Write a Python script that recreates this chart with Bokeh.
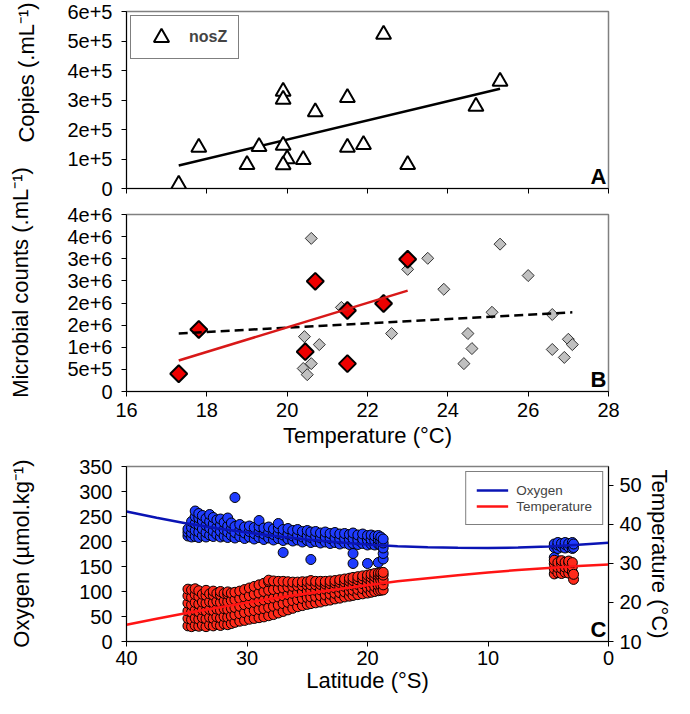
import numpy as np
from bokeh.plotting import figure
from bokeh.layouts import row, column
from bokeh.models import Range1d, LinearAxis, FixedTicker, Label, AllLabels
from bokeh.core.properties import value
from bokeh.embed import file_html
from bokeh.resources import INLINE

FONT = "Liberation Sans"
TICK_PX = "20px"
TITLE_PX = "22px"

# ---------------- Panel A : nosZ copies vs temperature ----------------
nosz_temp = [17.3, 17.8, 19.0, 19.3, 19.9, 19.9, 19.9, 20.0, 19.9, 20.4, 20.7,
             21.5, 21.5, 21.9, 22.4, 23.0, 24.7, 25.3]
nosz_copies = [1.4e4, 1.39e5, 8.1e4, 1.42e5, 3.29e5, 3.02e5, 1.46e5, 1.0e5, 8.0e4,
               9.8e4, 2.6e5, 3.08e5, 1.39e5, 1.49e5, 5.22e5, 8.1e4, 2.78e5, 3.63e5]
nosz_fit_temp = [17.3, 25.3]
nosz_fit_copies = [7.8e4, 3.38e5]
a_yticks = [0, 1e5, 2e5, 3e5, 4e5, 5e5, 6e5]
a_ylabels = ["0", "1e+5", "2e+5", "3e+5", "4e+5", "5e+5", "6e+5"]
temp_xticks = [16, 18, 20, 22, 24, 26, 28]

# ---------------- Panel B : microbial counts vs temperature ----------------
all_temp = [20.6, 20.43, 20.8, 20.6, 20.4, 20.5, 21.35, 23.5, 23.0, 23.9, 22.6,
            25.3, 26.0, 25.1, 24.5, 24.6, 24.4, 26.6, 26.6, 27.0, 27.1, 26.9]
all_counts = [3.46e6, 1.24e6, 1.06e6, 0.63e6, 0.52e6, 0.38e6, 1.9e6, 3.01e6, 2.76e6,
              2.31e6, 1.31e6, 3.33e6, 2.62e6, 1.79e6, 1.31e6, 0.97e6, 0.63e6,
              1.74e6, 0.95e6, 1.18e6, 1.06e6, 0.77e6]
sel_temp = [17.3, 17.8, 20.45, 20.7, 21.5, 21.5, 22.4, 23.0]
sel_counts = [4.0e5, 1.40e6, 0.90e6, 2.49e6, 1.83e6, 0.63e6, 1.99e6, 2.99e6]
sel_fit_temp = [17.3, 23.0]
sel_fit_counts = [0.70e6, 2.28e6]
all_fit_temp = [17.3, 27.1]
all_fit_counts = [1.31e6, 1.79e6]
b_yticks = [0, 5e5, 1e6, 1.5e6, 2e6, 2.5e6, 3e6, 3.5e6, 4e6]
b_ylabels = ["0", "5e+5", "1e+6", "2e+6", "2e+6", "3e+6", "3e+6", "4e+6", "4e+6"]

# ---------------- Panel C : oxygen & temperature vs latitude ----------------
o2_by_lat = {
    34.9: [211, 218, 225], 34.6: [209, 217, 228, 240], 34.3: [210, 222, 236, 250, 261],
    34.0: [208, 219, 233, 247, 256], 33.7: [212, 225, 241, 252], 33.4: [209, 218, 232, 246],
    33.1: [213, 227, 240, 254], 32.8: [210, 221, 235, 248], 32.5: [214, 228, 243],
    32.2: [209, 220, 233, 245], 31.9: [211, 224, 238], 31.6: [208, 219, 231, 247],
    31.3: [212, 225, 237], 31.0: [207, 218, 230, 288], 30.6: [210, 222, 234],
    30.2: [206, 217, 229], 29.8: [209, 220, 231], 29.4: [205, 216, 228],
    29.0: [208, 219, 230, 242], 28.6: [204, 215, 227], 28.2: [207, 218, 229],
    27.8: [203, 214, 225], 27.4: [206, 216, 227, 236], 27.0: [178, 202, 213, 224],
    26.6: [205, 215, 226], 26.2: [201, 211, 222], 25.8: [203, 213, 224],
    25.4: [199, 209, 220], 25.0: [202, 212, 222], 24.7: [164, 198, 208, 219],
    24.3: [200, 210, 220], 23.9: [197, 207, 217], 23.5: [199, 209, 219],
    23.1: [196, 206, 216], 22.7: [198, 207, 218], 22.3: [195, 205, 215],
    21.9: [197, 206, 216], 21.5: [194, 204, 214], 21.2: [156, 176, 196, 206, 217],
    20.8: [194, 203, 213], 20.4: [196, 205, 215], 20.0: [156, 193, 203, 212],
    19.7: [195, 204, 213], 19.4: [193, 202, 211], 19.1: [158, 195, 204, 212],
    18.9: [192, 201, 209], 18.7: [165, 176, 187, 197, 205],
    4.5: [188, 195, 168], 4.2: [186, 193, 198], 3.9: [189, 196],
    3.6: [187, 194, 198], 3.3: [189, 196], 3.0: [186, 193, 198], 2.9: [188, 195],
}
temp_by_lat = {
    34.9: [14.0, 15.9, 17.8, 19.8, 21.7, 23.4], 34.6: [13.8, 15.6, 17.5, 19.4, 21.3, 23.2],
    34.3: [14.1, 16.0, 18.0, 20.0, 22.0, 23.5], 34.0: [13.9, 15.7, 17.6, 19.6, 21.5, 23.0],
    33.7: [14.2, 16.1, 18.1, 20.1, 22.1], 33.4: [13.8, 15.8, 17.8, 19.8, 21.8, 23.1],
    33.1: [14.3, 16.2, 18.2, 20.2, 22.2], 32.8: [14.0, 15.9, 17.9, 19.9, 21.9, 22.9],
    32.5: [14.4, 16.3, 18.3, 20.3, 22.3], 32.2: [14.1, 16.0, 18.0, 20.0, 21.9, 22.8],
    31.9: [14.5, 16.4, 18.4, 20.4, 22.3], 31.6: [14.3, 16.2, 18.2, 20.2, 22.1, 22.7],
    31.3: [14.6, 16.5, 18.5, 20.5, 22.4], 31.0: [14.9, 16.8, 18.7, 20.7, 22.6],
    30.6: [15.2, 17.1, 19.0, 21.0, 22.9], 30.2: [15.4, 17.4, 19.4, 21.4, 23.3],
    29.8: [15.7, 17.7, 19.7, 21.7, 23.7], 29.4: [15.9, 17.9, 20.0, 22.1, 24.1],
    29.0: [16.1, 18.2, 20.3, 22.4, 24.5], 28.6: [16.3, 18.4, 20.6, 22.8, 24.9],
    28.2: [16.6, 18.7, 20.9, 23.1, 25.3, 25.7], 27.8: [16.9, 19.0, 21.1, 23.3, 25.5],
    27.4: [17.3, 19.3, 21.4, 23.5, 25.4], 27.0: [17.7, 19.7, 21.7, 23.7, 25.4],
    26.6: [18.1, 20.0, 22.0, 23.9, 25.3], 26.2: [18.5, 20.4, 22.3, 24.1, 25.2],
    25.8: [18.9, 20.7, 22.5, 24.2, 25.2], 25.4: [19.2, 21.0, 22.7, 24.3, 25.3],
    25.0: [19.5, 21.2, 22.9, 24.4, 25.3], 24.7: [19.7, 21.4, 23.0, 24.5, 25.6],
    24.3: [19.9, 21.5, 23.1, 24.5, 25.4], 23.9: [20.1, 21.7, 23.2, 24.6, 25.4],
    23.5: [20.4, 21.9, 23.4, 24.7, 25.4], 23.1: [20.6, 22.1, 23.5, 24.8, 25.5],
    22.7: [20.9, 22.3, 23.7, 24.9, 25.6], 22.3: [21.1, 22.5, 23.9, 25.1, 25.8],
    21.9: [21.4, 22.7, 24.1, 25.2, 26.0], 21.5: [21.6, 22.9, 24.2, 25.4, 26.2],
    21.2: [21.8, 23.1, 24.4, 25.6, 26.4], 20.8: [22.0, 23.3, 24.6, 25.8, 26.6],
    20.4: [22.2, 23.5, 24.8, 26.0, 26.8], 20.0: [22.4, 23.7, 25.0, 26.2, 27.0],
    19.7: [22.6, 23.9, 25.2, 26.4, 27.2], 19.4: [22.8, 24.1, 25.4, 26.6, 27.4],
    19.1: [23.0, 24.3, 25.6, 26.8, 27.5], 18.9: [23.1, 24.4, 25.7, 26.9, 27.6],
    18.7: [23.2, 24.5, 25.8, 27.0, 27.7],
    4.5: [27.3, 28.6, 29.9, 30.8], 4.2: [27.6, 28.9, 30.2], 3.9: [27.4, 28.7, 30.0, 30.7],
    3.6: [27.7, 29.0, 30.3], 3.3: [27.5, 28.8, 30.1, 30.6], 3.0: [27.8, 29.1, 30.2],
    2.9: [25.9, 27.2],
}
o2_fit_lat = [40, 37.5, 35, 32.5, 30, 27.5, 25, 22.5, 20, 17.5, 15, 12.5, 10, 7.5, 5, 2.5, 0]
o2_fit = [260, 247.5, 236, 226.5, 218, 210.5, 204, 198.5, 194, 190.5, 188.5, 187.3,
          187, 188, 190, 193.5, 197.6]
t_fit_lat = [40, 37.5, 35, 32.5, 30, 27.5, 25, 22.5, 20, 17.5, 15, 12.5, 10, 7.5, 5, 2.5, 0]
t_fit = [14.3, 15.8, 17.3, 18.65, 19.95, 21.2, 22.3, 23.4, 24.4, 25.4, 26.2, 26.97,
         27.65, 28.3, 28.8, 29.3, 29.7]
c_xticks = [40, 30, 20, 10, 0]
c_yticks = [0, 50, 100, 150, 200, 250, 300, 350]
c_y2ticks = [10, 20, 30, 40, 50]

o2_lat = [lat for lat, vals in o2_by_lat.items() for _ in vals]
o2_val = [v for vals in o2_by_lat.values() for v in vals]
tp_lat = [lat for lat, vals in temp_by_lat.items() for _ in vals]
tp_val = [v for vals in temp_by_lat.values() for v in vals]


def style_axis(ax, standoff, title_standoff=5):
    ax.axis_line_color = "black"
    ax.axis_line_width = 1
    ax.major_tick_line_color = "black"
    ax.major_tick_line_width = 1
    ax.major_tick_out = 5
    ax.major_tick_in = 0
    ax.minor_tick_line_color = None
    ax.major_label_text_font = FONT
    ax.major_label_text_font_size = TICK_PX
    ax.major_label_text_color = "black"
    ax.major_label_standoff = standoff
    ax.major_label_policy = AllLabels()
    ax.axis_label_text_font = FONT
    ax.axis_label_text_font_size = TITLE_PX
    ax.axis_label_text_font_style = "normal"
    ax.axis_label_text_color = "black"
    ax.axis_label_standoff = title_standoff


def panel(height, top, bottom, right, xr, yr):
    p = figure(width=626, height=height, x_range=xr, y_range=yr,
               output_backend="svg", toolbar_location=None,
               min_border_left=78, min_border_right=right,
               min_border_top=top, min_border_bottom=bottom)
    p.xgrid.visible = False
    p.ygrid.visible = False
    p.outline_line_color = "#808080"
    p.outline_line_width = 1.5
    return p


def letter(p, x, txt):
    p.add_layout(Label(x=x, y=0, text=txt, text_font=FONT, text_font_size="22px",
                       text_font_style="bold", text_color="black",
                       text_align="right", text_baseline="bottom",
                       x_offset=-2, y_offset=0))


# ---- A ----
pa = panel(200, 11, 12, 9, Range1d(16, 28), Range1d(0, 6e5))
pa.line(nosz_fit_temp, nosz_fit_copies, line_color="black", line_width=2.5)
pa.scatter(nosz_temp, nosz_copies, marker="triangle", size=15, fill_color="white",
           line_color="black", line_width=2, legend_label="nosZ")
ax_a_x = pa.xaxis[0]
style_axis(ax_a_x, 0)
ax_a_x.ticker = FixedTicker(ticks=temp_xticks)
ax_a_x.major_label_text_font_size = "0px"
ax_a_x.major_label_text_color = None
ax_a_y = pa.yaxis[0]
style_axis(ax_a_y, 9)
ax_a_y.ticker = FixedTicker(ticks=a_yticks)
ax_a_y.major_label_overrides = {t: l for t, l in zip(a_yticks, a_ylabels)}
lg = pa.legend[0]
lg.location = "top_left"
lg.margin = 4
lg.padding = 2
lg.spacing = 0
lg.glyph_width = 56
lg.glyph_height = 38
lg.label_height = 38
lg.label_width = 47
lg.label_standoff = 0
lg.label_text_font = FONT
lg.label_text_font_size = "16px"
lg.label_text_font_style = "bold"
lg.border_line_color = "black"
lg.border_line_width = 1
lg.background_fill_alpha = 1
letter(pa, 28, "A")

# ---- B ----
pb = panel(253, 14, 62, 9, Range1d(16, 28), Range1d(0, 4e6))
pb.scatter(all_temp, all_counts, marker="square", angle=np.pi / 4, size=8.5,
           fill_color="#c0c0c0", line_color="#333333", line_width=1)
pb.scatter(sel_temp, sel_counts, marker="square", angle=np.pi / 4, size=12,
           fill_color="#ee0000", line_color="black", line_width=2)
pb.line(all_fit_temp, all_fit_counts, line_color="black", line_width=2.5, line_dash="9 5")
pb.line(sel_fit_temp, sel_fit_counts, line_color="#d81818", line_width=2.5)
ax_b_x = pb.xaxis[0]
style_axis(ax_b_x, 6, 3)
ax_b_x.ticker = FixedTicker(ticks=temp_xticks)
ax_b_x.axis_label = "Temperature (°C)"
ax_b_y = pb.yaxis[0]
style_axis(ax_b_y, 9)
ax_b_y.ticker = FixedTicker(ticks=b_yticks)
ax_b_y.major_label_overrides = {t: l for t, l in zip(b_yticks, b_ylabels)}
letter(pb, 28, "B")

# ---- C ----
pc = panel(245, 13, 57, 60, Range1d(40, 0), Range1d(0, 350))
ax_c_x = pc.xaxis[0]
ax_c_y = pc.yaxis[0]
pc.extra_y_ranges = {"temp": Range1d(10, 54.8)}
pc.scatter(o2_lat, o2_val, size=10, fill_color="#1f3cff", line_color="black", line_width=1)
pc.scatter(tp_lat, tp_val, size=10, fill_color="#ff2a1a", line_color="black",
           line_width=1, y_range_name="temp")
pc.line(o2_fit_lat, o2_fit, line_color="#0a14b4", line_width=2.5, legend_label="Oxygen")
pc.line(t_fit_lat, t_fit, line_color="#ff1414", line_width=2.5, y_range_name="temp",
        legend_label="Temperature")
raxis = LinearAxis(y_range_name="temp", axis_label="Temperature (°C)")
style_axis(raxis, 6, 2)
raxis.ticker = FixedTicker(ticks=c_y2ticks)
pc.add_layout(raxis, "right")
style_axis(ax_c_x, 4, 0)
ax_c_x.ticker = FixedTicker(ticks=c_xticks)
ax_c_x.axis_label = "Latitude (°S)"
style_axis(ax_c_y, 9)
ax_c_y.ticker = FixedTicker(ticks=c_yticks)
lc = pc.legend[0]
lc.location = "top_right"
lc.margin = 5
lc.padding = 10
lc.spacing = 0
lc.glyph_width = 32
lc.glyph_height = 16
lc.label_height = 16
lc.label_standoff = 8
lc.label_text_font = FONT
lc.label_text_font_size = "13.5px"
lc.border_line_color = "black"
lc.border_line_width = 1
lc.background_fill_alpha = 1
letter(pc, 0, "C")

# ---- left-side y titles (free placement, as in the original) ----
ytitles = ["Copies (.mL\u207b\u00b9)", "Microbial counts (.mL\u207b\u00b9)",
           "Oxygen (\u00b5mol.kg\u207b\u00b9)"]
lf = figure(width=48, height=698, x_range=Range1d(0, 48), y_range=Range1d(698, 0),
            output_backend="svg", toolbar_location=None, min_border=0,
            x_axis_type=None, y_axis_type=None)
lf.outline_line_color = None
lf.xgrid.visible = False
lf.ygrid.visible = False
lf.text(x=[26, 20, 21], y=[72, 282, 553], text=ytitles, angle=np.pi / 2,
        text_align="center", text_baseline="middle", text_font=value(FONT),
        text_font_size=TITLE_PX, text_color="black")

layout = row(lf, column(pa, pb, pc))
open("out.html", "w").write(file_html(layout, INLINE))
